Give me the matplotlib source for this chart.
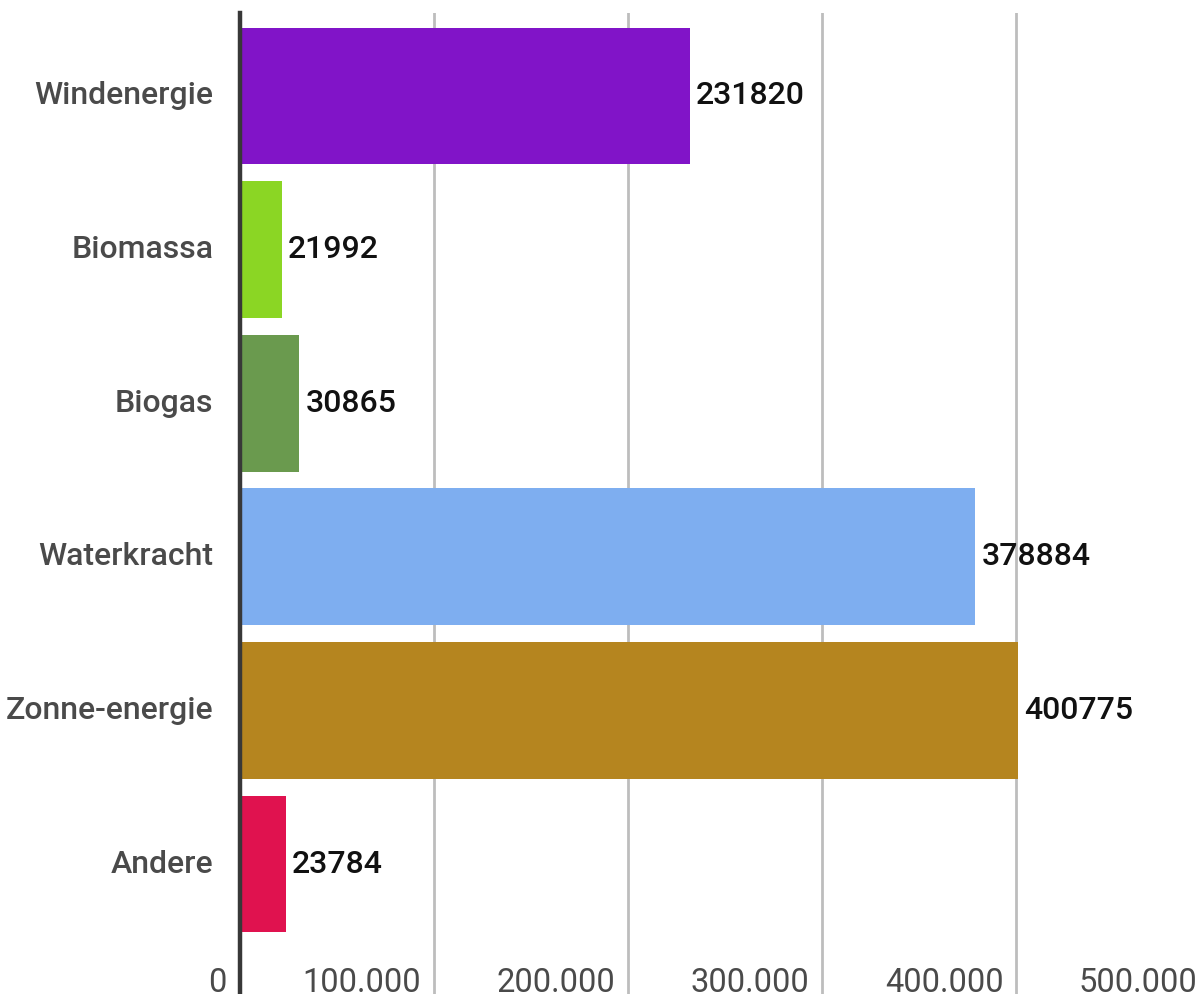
import matplotlib.pyplot as plt
from matplotlib.transforms import ScaledTranslation

plt.rcParams['font.family'] = ['Roboto', 'DejaVu Sans']

categories = ['Windenergie', 'Biomassa', 'Biogas', 'Waterkracht', 'Zonne-energie', 'Andere']
values = [231820, 21992, 30865, 378884, 400775, 23784]
colors = ['#8114c8', '#8bd624', '#6a9a4e', '#7eaef0', '#b5851f', '#e0124f']
tick_values = [0, 100000, 200000, 300000, 400000, 500000]
tick_labels = ['0', '100.000', '200.000', '300.000', '400.000', '500.000']

fig = plt.figure(figsize=(12.02, 9.94), dpi=100)
ax = fig.add_axes([239.5 / 1202, 0, 1 - 239.5 / 1202, 981 / 994])

ypos = list(range(len(categories)))
ax.barh(ypos, values, height=0.89, color=colors, zorder=2)

ax.set_xlim(0, 495500)
ax.set_ylim(5.846, -0.54)

# vertical grid
for t in tick_values[1:]:
    ax.axvline(t, color='#bdbdbd', lw=2, zorder=1)
ax.axvline(0, color='#383838', lw=3.2, zorder=3, clip_on=False)

for s in ax.spines.values():
    s.set_visible(False)
ax.set_xticks([])
ax.set_yticks([])

# category labels
for y, name in zip(ypos, categories):
    ax.text(-26 / 194.3 * 100000, y, name, ha='right', va='center',
            fontsize=23, fontweight='medium', color='#4a4a4a', clip_on=False)

# value labels
off = ScaledTranslation(6 / 100, 0, fig.dpi_scale_trans)
for y, v in zip(ypos, values):
    ax.text(v, y, str(v), ha='left', va='center', fontsize=23,
            fontweight='medium', color='#111111',
            transform=ax.transData + off, clip_on=False)

# x tick labels, right-aligned just left of each gridline
toff = ScaledTranslation(-13 / 100, 0, fig.dpi_scale_trans)
for t, lab in zip(tick_values, tick_labels):
    ax.text(t, 5.834, lab, ha='right', va='baseline', fontsize=23.5,
            color='#4a4a4a', transform=ax.transData + toff, clip_on=False)

fig.savefig('out.png', dpi=100, facecolor='white')
